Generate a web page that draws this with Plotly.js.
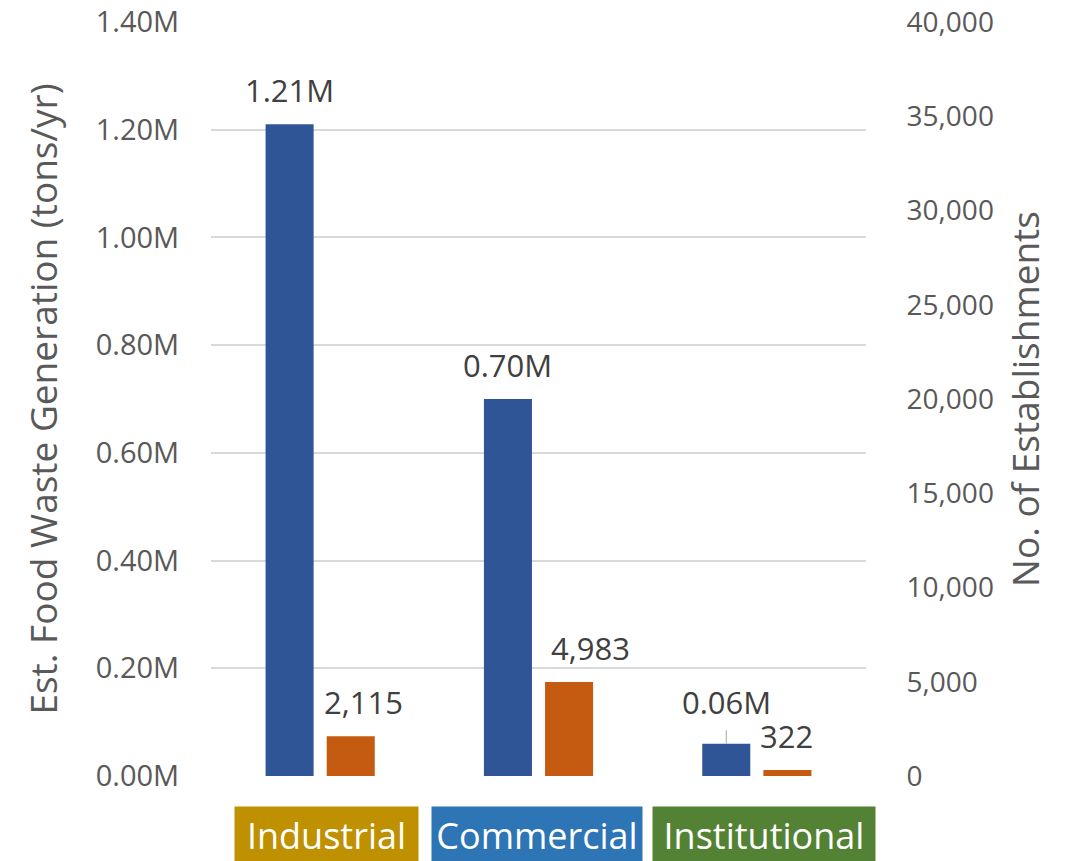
<!DOCTYPE html>
<html>
<head>
<meta charset="utf-8">
<script src="https://cdn.plot.ly/plotly-3.0.1.min.js"></script>
<style>html,body{margin:0;padding:0;background:#fff;}#chart{width:1071px;height:861px;}</style>
</head>
<body>
<div id="chart"></div>
<script>
// Data
var categories = ["Industrial", "Commercial", "Institutional"];
var wasteMillions = [1.21, 0.70, 0.06];          // Est. Food Waste Generation (M tons/yr)
var establishments = [2115, 4983, 322];           // No. of Establishments
var wasteLabels = ["1.21M", "0.70M", "0.06M"];
var estLabels = ["2,115", "4,983", "322"];

// Styles
var categoryColors = ["#BF9000", "#2E75B6", "#548235"];
var catBoxWidths = [175, 202, 214];   // px
var catBoxNudge = [6, -2, 7];         // px
var estLabelNudge = [13, 21, -1];     // px nudges of the orange data labels
var FONT = "Open Sans, Noto Sans, sans-serif";
var PX_PER_CAT = 218.3;

var traces = [
  {
    type: "bar", x: categories, y: wasteMillions, yaxis: "y",
    width: 0.22, offset: -0.25,
    marker: {color: "#2F5597"}, hoverinfo: "skip", showlegend: false
  },
  {
    type: "bar", x: categories, y: establishments, yaxis: "y2",
    width: 0.22, offset: 0.03,
    marker: {color: "#C55A11"}, hoverinfo: "skip", showlegend: false
  }
];

var labelFont = {family: FONT, size: 31, color: "#404040"};
var annotations = [];
categories.forEach(function (c, i) {
  if (i === 2) {
    annotations.push({
      x: c, xref: "x", y: wasteMillions[i], yref: "y",
      xshift: -0.14 * PX_PER_CAT,
      text: wasteLabels[i], showarrow: true, arrowhead: 0, arrowwidth: 1,
      arrowcolor: "#A6A6A6", ax: 0, ay: -42, startstandoff: 6,
      font: labelFont
    });
  } else {
    annotations.push({
      x: c, xref: "x", y: wasteMillions[i], yref: "y",
      xshift: -0.14 * PX_PER_CAT, yanchor: "bottom", yshift: 11,
      text: wasteLabels[i], showarrow: false, font: labelFont
    });
  }
  annotations.push({
    x: c, xref: "x", y: establishments[i], yref: "y2",
    xshift: 0.14 * PX_PER_CAT + estLabelNudge[i], yanchor: "bottom", yshift: 11,
    text: estLabels[i], showarrow: false, font: labelFont
  });
  annotations.push({
    x: c, xref: "x", y: 0, yref: "paper", yanchor: "top", yshift: -30,
    xshift: catBoxNudge[i],
    width: catBoxWidths[i], height: 48, valign: "middle",
    text: c, showarrow: false, bgcolor: categoryColors[i], borderpad: 4,
    font: {family: FONT, size: 36, color: "#ffffff"}
  });
});

var layout = {
  width: 1071, height: 861,
  margin: {l: 211, r: 205, t: 22, b: 85},
  paper_bgcolor: "#ffffff", plot_bgcolor: "#ffffff",
  barmode: "overlay",
  font: {family: FONT, color: "#595959"},
  xaxis: {
    type: "category", range: [-0.5, 2.5],
    showticklabels: false, showgrid: false, zeroline: false,
    showline: false, fixedrange: true
  },
  yaxis: {
    range: [0, 1.4], dtick: 0.2, tickformat: ".2f", ticksuffix: "M",
    showgrid: true, gridcolor: "#D9D9D9", gridwidth: 2,
    zeroline: false, showline: false,
    ticks: "outside", ticklen: 25, tickcolor: "rgba(0,0,0,0)",
    tickfont: {family: FONT, size: 29, color: "#595959"},
    title: {text: "Est. Food Waste Generation (tons/yr)", standoff: 26,
            font: {family: FONT, size: 37, color: "#595959"}}
  },
  yaxis2: {
    overlaying: "y", side: "right",
    range: [0, 40000], dtick: 5000, tickformat: ",",
    showgrid: false, zeroline: false, showline: false,
    ticks: "outside", ticklen: 34, tickcolor: "rgba(0,0,0,0)",
    tickfont: {family: FONT, size: 28, color: "#595959"},
    title: {text: "No. of Establishments", standoff: 20,
            font: {family: FONT, size: 37, color: "#595959"}}
  },
  annotations: annotations
};

Plotly.newPlot("chart", traces, layout, {staticPlot: true, displayModeBar: false});
</script>
</body>
</html>
